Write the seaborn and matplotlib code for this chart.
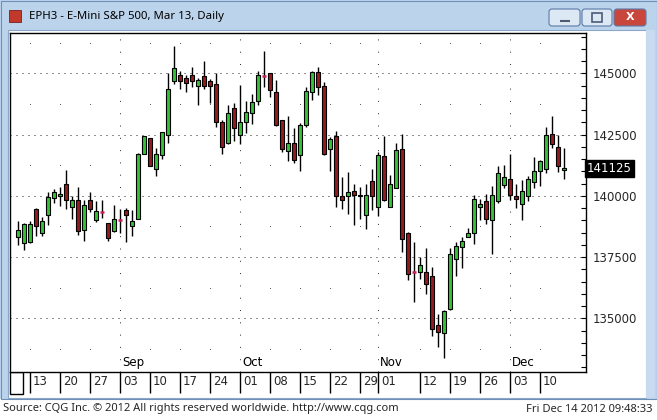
import pandas as pd
import matplotlib
matplotlib.use("Agg")
import matplotlib.pyplot as plt
from matplotlib.patches import Rectangle, FancyBboxPatch
import seaborn as sns

# daily OHLC, EPH3, Aug 9 .. Dec 14 2012
opens = [138325, 138075, 138100, 139475, 138500, 139200, 139925, 139975, 140475, 139525,
         139825, 138625, 139825, 139025, 139350, 138875, 138550, 139000, 139425, 138750,
         139075, 141725, 142350, 141075, 141650, 142500, 144700, 144950, 144800, 144950,
         144500, 144900, 144675, 144575, 143000, 142150, 143600, 142500, 143025, 143375,
         143850, 144900, 145000, 144225, 143075, 141850, 142150, 141650, 142875, 144250,
         145050, 144475, 141900, 142450, 140000, 139975, 140200, 139975, 139200, 140600,
         139525, 141625, 139550, 140325, 141900, 138500, 136900, 136875, 136875, 136725,
         134725, 134400, 135375, 137425, 137925, 138325, 138500, 139525, 139775, 139000,
         139800, 140425, 140675, 139975, 139650, 140000, 140575, 141025, 141075, 142525,
         141975, 141050]
highs = [138975, 138875, 138975, 139500, 139125, 140150, 140275, 140350, 141050, 140000,
         140350, 139825, 140150, 139800, 139825, 138900, 139625, 139450, 139500, 139425,
         141750, 142450, 142375, 141950, 142625, 145000, 146125, 145100, 144925, 145250,
         144825, 145500, 144750, 145000, 143100, 143725, 143775, 144525, 143875, 144150,
         145100, 145900, 145025, 144725, 143100, 143250, 142750, 142975, 144450, 145100,
         145275, 144650, 142400, 142650, 140775, 140975, 140500, 140350, 140500, 141075,
         141800, 142450, 140850, 142175, 142525, 138525, 138100, 137525, 137875, 137100,
         135175, 135325, 137875, 138100, 138325, 138675, 140050, 139875, 140075, 140400,
         141200, 141250, 141700, 140500, 140650, 140800, 141575, 141475, 142825, 143250,
         142500, 141950]
lows = [138000, 137800, 138075, 138375, 138375, 138825, 139725, 139600, 139450, 139050,
        138400, 138150, 139325, 138950, 139100, 138175, 138525, 138500, 138100, 138375,
        139050, 141700, 141200, 140825, 141500, 142175, 144575, 144375, 144250, 144450,
        143725, 144375, 143775, 142825, 141725, 142125, 142250, 142125, 142575, 142925,
        143725, 144450, 144050, 142850, 141800, 141425, 141350, 141025, 142825, 143900,
        144125, 141675, 141000, 139525, 139475, 139250, 138800, 139050, 138650, 139425,
        139175, 139800, 139550, 140325, 137725, 136575, 135675, 136625, 135975, 134275,
        133850, 133375, 135350, 136750, 137075, 138325, 138050, 139025, 138850, 137625,
        139725, 140300, 139850, 139500, 139025, 139800, 140325, 140400, 140925, 141950,
        140975, 140700]
closes = [138625, 138850, 138850, 138750, 138975, 139950, 140150, 140075, 139850, 139825,
          138575, 139625, 139450, 139400, 139350, 138300, 139075, 139000, 139200, 138975,
          141725, 142425, 141225, 141700, 142600, 144350, 145200, 144700, 144600, 144675,
          144725, 144500, 144475, 143025, 142000, 143400, 142750, 143000, 143425, 143825,
          144925, 144900, 144300, 142900, 141925, 142150, 141475, 142900, 144275, 145050,
          144450, 141700, 142325, 139975, 139825, 140150, 140050, 140050, 140050, 139975,
          141675, 139825, 140500, 141875, 138225, 136825, 136900, 137175, 136400, 134575,
          134425, 135300, 137625, 137950, 138175, 138475, 139875, 139650, 139075, 140050,
          140925, 140750, 140050, 139875, 140200, 140700, 141000, 141425, 142500, 142100,
          141200, 141125]
dates = pd.bdate_range("2012-08-09", "2012-12-14")
week_ticks = ["2012-08-13", "2012-08-20", "2012-08-27", "2012-09-03", "2012-09-10",
              "2012-09-17", "2012-09-24", "2012-10-01", "2012-10-08", "2012-10-15",
              "2012-10-22", "2012-10-29", "2012-11-01", "2012-11-12", "2012-11-19",
              "2012-11-26", "2012-12-03", "2012-12-10"]
price_ticks = [135000, 137500, 140000, 142500, 145000]
last_price = 141125
title = "EPH3 - E-Mini S&P 500, Mar 13, Daily"
source_text = "Source: CQG Inc. \u00a9 2012 All rights reserved worldwide. http://www.cqg.com"
stamp_text = "Fri Dec 14 2012 09:48:33"

sns.set_theme(style="white")
plt.rcParams["font.family"] = ["DejaVu Sans"]

df = pd.DataFrame({"date": dates, "open": opens, "high": highs, "low": lows, "close": closes})
df["i"] = range(len(df))
df["doji"] = df["open"] == df["close"]
df["up"] = df["close"] > df["open"]

W, H = 657, 420
fig = plt.figure(figsize=(W / 100, H / 100), dpi=100)
fig.patch.set_facecolor("#bcd3ec")


def px_axes(x0, y0, x1, y1, **kw):
    return fig.add_axes([x0 / W, 1 - y1 / H, (x1 - x0) / W, (y1 - y0) / H], **kw)


# window chrome
bg = px_axes(0, 0, W, H)
bg.set_xlim(0, W)
bg.set_ylim(H, 0)
bg.axis("off")
bg.add_patch(Rectangle((0, 399), W, 21, facecolor="white", edgecolor="none"))
bg.add_patch(Rectangle((0.5, 0.5), W - 1, 398, facecolor="none", edgecolor="#6f8fb8", lw=0.8))
bg.add_patch(Rectangle((8, 30), 638, 368, facecolor="white", edgecolor="#8aa6c8", lw=0.8))
bg.add_patch(Rectangle((646, 30), 9, 368, facecolor="#c8daef", edgecolor="none"))
bg.add_patch(Rectangle((9, 10), 12, 12, facecolor="#c0392b", edgecolor="#7a1f1f", lw=0.6))
bg.text(29, 17, title, fontsize=8.2, family=["Noto Sans", "DejaVu Sans"], va="center", ha="left", color="black")
for x0, x1, fc in [(549, 580, "#dde8f5"), (582, 612, "#dde8f5"), (614, 646, "#c9463d")]:
    bg.add_patch(FancyBboxPatch((x0, 9), x1 - x0, 17, boxstyle="round,pad=0,rounding_size=3",
                                facecolor=fc, edgecolor="#5b7aa6", lw=0.8))
bg.add_patch(Rectangle((559, 19), 11, 3, facecolor="#4a5d78", edgecolor="#ffffff", lw=0.5))
bg.add_patch(Rectangle((592, 13), 10, 9, facecolor="none", edgecolor="#4a5d78", lw=1.2))
bg.text(630, 17.5, "X", fontsize=8, fontweight="bold", color="white", ha="center", va="center")
bg.add_patch(Rectangle((10, 372), 13, 22, facecolor="white", edgecolor="black", lw=1))
bg.text(3, 409, source_text, fontsize=8, family=["Noto Sans", "DejaVu Sans"], va="center", ha="left")
bg.text(653, 409, stamp_text, fontsize=8, family=["Noto Sans", "DejaVu Sans"], va="center", ha="right")

# price panel
ax = px_axes(10, 33, 586, 372)
ax.set_facecolor("white")
xmin, xmax = -1.4, 94.6
ax.set_xlim(xmin, xmax)
ax.set_ylim(132813, 146644)

month_idx = df.groupby(df["date"].dt.month)["i"].first().iloc[1:]
week_idx = [dates.get_loc(pd.Timestamp(d)) for d in week_ticks]

ax.hlines(price_ticks, xmin, xmax, colors="#222222", linestyles=[(0, (1, 5))], lw=0.72, zorder=1)
for m in month_idx:
    ax.axvline(m, color="#333333", ls=(0, (1, 11.3)), lw=0.72, zorder=1)
half_levels = [133750, 136250, 138750, 141250, 143750, 146250]
for w in week_idx:
    if w in month_idx.values:
        continue
    ax.plot([w] * len(half_levels), half_levels, ls="none", marker="s", ms=0.55, mew=0,
            color="#444444", zorder=1)

# candles
ax.vlines(df["i"], df["low"], df["high"], color="black", lw=1, zorder=2)
body = df[~df["doji"]]
heights = (body["close"] - body["open"]).abs().clip(lower=70)
bottoms = body[["open", "close"]].min(axis=1)
colors = ["#36c236" if u else "#921c20" for u in body["up"]]
ax.bar(body["i"], heights, bottom=bottoms, width=0.64, color=colors, edgecolor="black", lw=0.8, zorder=3)
dj = df[df["doji"]]
ax.hlines(dj["open"], dj["i"] - 0.33, dj["i"] + 0.33, colors="#d01c5a", lw=1.8, zorder=4)

for m in month_idx:
    ax.text(m + 0.25, 0.027, dates[m].strftime("%b"), transform=ax.get_xaxis_transform(),
            fontsize=8.5, va="center", ha="left", color="black")

ax.yaxis.tick_right()
ax.set_yticks(price_ticks)
ax.set_yticklabels([str(p) for p in price_ticks])
ax.set_yticks(range(133000, 146501, 500), minor=True)
ax.tick_params(axis="y", which="both", direction="in", length=3.5, width=0.8, color="black",
               labelsize=8.5, pad=4.5, right=True, left=False)
ax.tick_params(axis="x", bottom=False, labelbottom=False)
for s in ax.spines.values():
    s.set_color("black")
    s.set_linewidth(1)

# last price marker
ax.text(1.002, last_price, str(last_price), transform=ax.get_yaxis_transform(), fontsize=8.5,
        color="white", va="center", ha="left",
        bbox=dict(boxstyle="square,pad=0.15", facecolor="black", edgecolor="black"))

# date row
dax = px_axes(10, 372, 586, 396)
dax.set_xlim(xmin, xmax)
dax.set_ylim(0, 1)
dax.axis("off")
dax.vlines(week_idx, 0.12, 1, color="black", lw=1)
for w in week_idx:
    dax.text(w + 0.45, 0.6, dates[w].strftime("%d"), fontsize=8.5, va="center", ha="left")

fig.savefig("out.png", dpi=100, facecolor=fig.get_facecolor())
